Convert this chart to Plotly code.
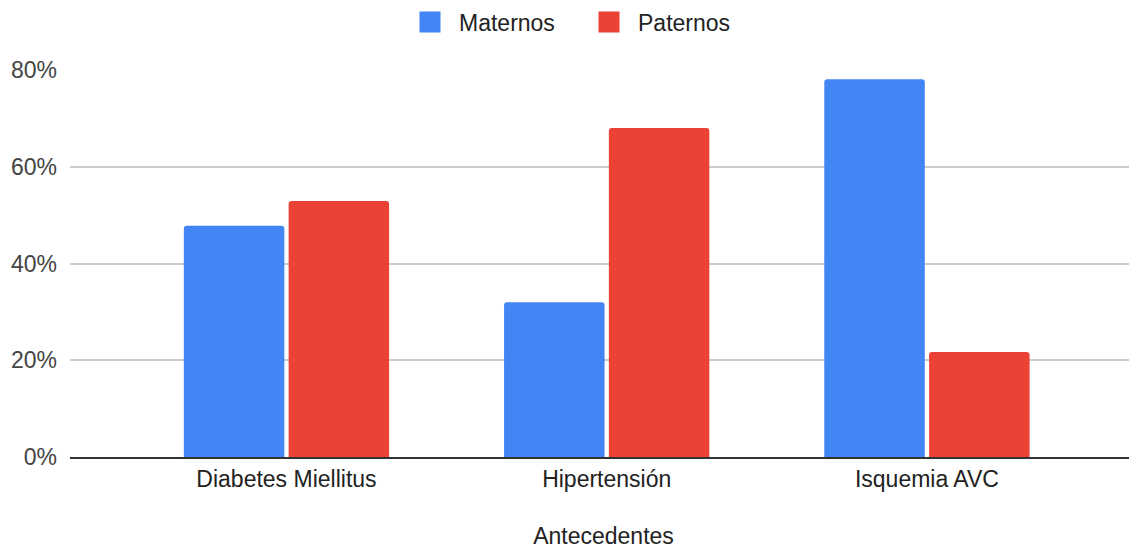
import plotly.graph_objects as go

categories = ["Diabetes Miellitus", "Hipertensión", "Isquemia AVC"]
maternos = [0.478, 0.32, 0.781]
paternos = [0.529, 0.68, 0.217]
series_names = ["Maternos", "Paternos"]
colors = ["#4285F4", "#EA4335"]
y_ticks = [0, 0.2, 0.4, 0.6, 0.8]
x_title = "Antecedentes"

fig = go.Figure()
for name, vals, col in zip(series_names, [maternos, paternos], colors):
    fig.add_trace(go.Bar(x=categories, y=vals, name=name, marker_color=col,
                         marker_line_width=0, showlegend=False))
    fig.add_trace(go.Scatter(x=[None], y=[None], mode="markers", name=name,
                             marker=dict(symbol="square", size=16, color=col,
                                         line=dict(color=col, width=5))))

W, H = 1129, 541
fig.update_layout(
    width=W, height=H,
    margin=dict(l=62, r=0, t=62, b=92, autoexpand=False),
    paper_bgcolor="white", plot_bgcolor="white",
    font=dict(family="Liberation Sans, Arial, sans-serif", size=23, color="#222222"),
    barmode="group", bargap=0.3455, bargroupgap=0.041,
    barcornerradius=3,
    legend=dict(orientation="h", x=393 / W, xref="container", xanchor="left",
                y=(449 - 14) / 387, yref="paper", yanchor="middle",
                font=dict(size=23, color="#222222"), itemwidth=48,
                entrywidth=116, traceorder="normal"),
    xaxis=dict(range=[-0.676, 2.656], showgrid=False, showline=True,
               linecolor="#333333", linewidth=2, ticks="",
               title=dict(text=x_title, standoff=37, font=dict(size=23, color="#222222")),
               tickfont=dict(size=23, color="#222222")),
    yaxis=dict(range=[0, 0.8], tickvals=y_ticks, tickformat=".0%",
               gridcolor="#cccccc", gridwidth=2, zeroline=False, showline=False,
               tickfont=dict(size=23, color="#444444"), ticklabelstandoff=12),
)

fig.write_html("out.html")
